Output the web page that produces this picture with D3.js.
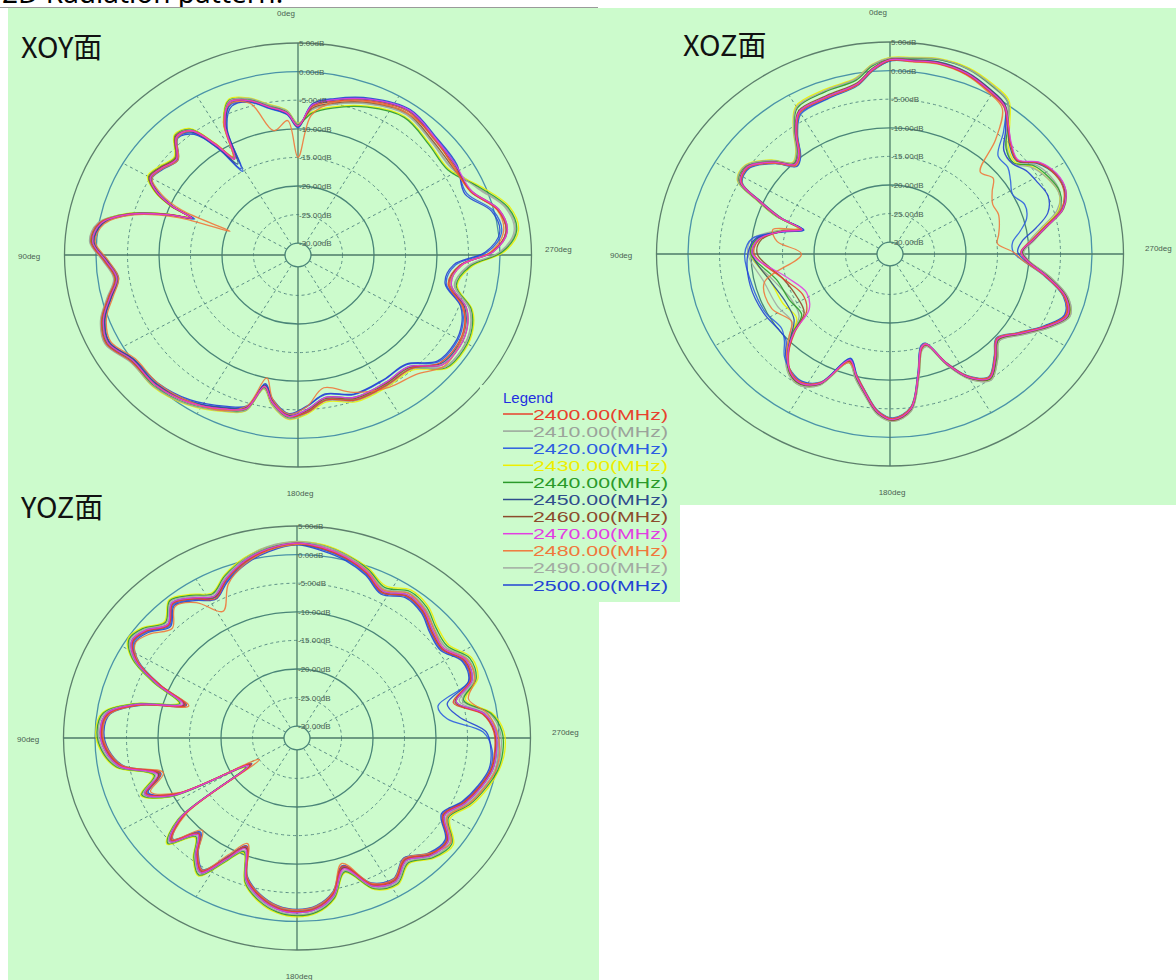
<!DOCTYPE html>
<html>
<head>
<meta charset="utf-8">
<script src="https://cdn.jsdelivr.net/npm/d3@7"></script>
<style>
  body { margin: 0; background: #fff; }
  svg { display: block; }
</style>
</head>
<body>
<svg id="chart" width="1176" height="980"></svg>
<script>
// legend / series
const freqLabels = ["2400.00(MHz)","2410.00(MHz)","2420.00(MHz)","2430.00(MHz)","2440.00(MHz)","2450.00(MHz)","2460.00(MHz)","2470.00(MHz)","2480.00(MHz)","2490.00(MHz)","2500.00(MHz)"];
const seriesColors = ["#e8412c","#9ba39b","#2c5ee0","#eeee00","#2a9a2a","#2f4d8c","#8c4b2c","#e23ee2","#f0783c","#a2aaa2","#2343d4"];
// drawing order (red / magenta end up on top, as in the picture)
const drawOrder = [1, 3, 4, 9, 2, 10, 5, 6, 8, 0, 7];

// grid
const ringDb = [5, 0, -5, -10, -15, -20, -25, -30];
const ringText = ["5.00dB","0.00dB","-5.00dB","-10.00dB","-15.00dB","-20.00dB","-25.00dB","-30.00dB"];
const spokeDeg = [30, 60, 120, 150, 210, 240, 300, 330];

// XOY plane (angle in deg, gain in dB)
const xoyAngles = [0,4,10,16,22,27,31,34,38,43,49,55,60,64,67,69,71,75,80,86,92,98,104,110,117,125,135,146,157,163,167,171,177,183,190,200,212,222,230,238,245,251,258,266,271,277,284,292,302,313,325,337,348,355];
const xoySeries = [
  [-9.5,-7.2,-5.8,-4.0,-3.2,-6.5,-12.5,-9,-4.5,-3.8,-6.5,-5.6,-5.0,-7.2,-10.5,-14,-10.5,-4.5,0,0.9,-1.3,-2.7,-1.0,1.1,2.1,0.3,0,-1.0,-2.8,-4.0,-8.5,-6.0,-3.8,-4.5,-6.3,-5.1,-5.3,-5.3,-2.7,-2.3,-2.9,-4.3,-7.7,-6.3,-1.3,1.2,0.6,-2.5,-2.8,-2.5,-1.5,-2.8,-4.6,-6.0],
  [-9.2,-6.9,-5.5,-3.7,-2.9,-6.2,-12.2,-8.7,-4.2,-3.5,-6.2,-5.3,-4.7,-6.9,-10.2,-13.7,-10.2,-4.2,0.2,1.1,-1.1,-2.5,-0.8,1.3,2.3,0.5,0.3,-0.7,-2.5,-3.7,-8.2,-5.7,-3.5,-4.7,-6.5,-5.3,-5.5,-5.5,-1.7,-1.3,-1.9,-3.3,-6.7,-4.8,0.2,2.7,2.1,-1.0,-3.3,-3.0,-2.0,-3.3,-5.1,-6.5],
  [-9.8,-7.5,-6.1,-4.3,-3.7,-7.0,-15,-10,-5.0,-4.0,-6.7,-5.8,-5.2,-7.4,-10.7,-14.5,-10.7,-4.7,-0.3,0.6,-1.6,-3.0,-1.3,0.8,1.8,0,-0.3,-1.3,-3.1,-4.3,-8.8,-6.3,-4.1,-5.5,-7.3,-6.1,-6.3,-6.3,-3.0,-2.6,-3.2,-4.6,-8.0,-7.0,-2.0,0.5,-0.1,-3.2,-2.5,-2.2,-1.2,-2.5,-4.3,-5.7],
  [-9.0,-6.7,-5.3,-3.5,-2.7,-6.0,-12,-8.5,-4.0,-3.3,-6.0,-5.1,-4.5,-6.7,-10,-13.5,-10,-4.0,0,0.9,-1.3,-2.7,-1.0,1.1,2.1,0.3,0.5,-0.5,-2.3,-3.5,-8.0,-5.5,-3.3,-4.2,-6.0,-4.8,-5.0,-5.0,-1.2,-0.8,-1.4,-2.8,-6.2,-4.3,0.7,3.2,2.6,-0.5,-3.8,-3.5,-2.5,-3.8,-5.6,-7.0],
  [-9.2,-6.9,-5.5,-3.7,-2.9,-6.2,-12.2,-8.7,-4.2,-3.5,-6.2,-5.3,-4.7,-6.9,-10.2,-13.7,-10.2,-4.2,-0.1,0.8,-1.4,-2.8,-1.1,1.0,2.0,0.2,0.3,-0.7,-2.5,-3.7,-8.2,-5.7,-3.5,-4.5,-6.3,-5.1,-5.3,-5.3,-1.4,-1.0,-1.6,-3.0,-6.4,-4.6,0.4,2.9,2.3,-0.8,-4.0,-3.7,-2.7,-4.0,-5.8,-7.2],
  [-9.5,-7.2,-5.8,-4.0,-3.5,-6.8,-13.5,-9.3,-4.8,-3.8,-6.5,-5.6,-5.0,-7.2,-10.5,-14,-10.5,-4.5,-0.5,0.4,-1.8,-3.2,-1.5,0.6,1.6,-0.2,-0.2,-1.2,-3.0,-4.2,-8.7,-6.2,-4.0,-5.0,-6.8,-5.6,-5.8,-5.8,-2.5,-2.1,-2.7,-4.1,-7.5,-6.3,-1.3,1.2,0.6,-2.5,-2.6,-2.3,-1.3,-2.6,-4.4,-5.8],
  [-9.5,-7.2,-5.8,-4.0,-3.2,-6.5,-12.5,-9,-4.5,-3.6,-6.3,-5.4,-4.8,-7.0,-10.3,-13.8,-10.3,-4.3,-0.3,0.6,-1.6,-3.0,-1.3,0.8,1.8,0,0,-1.0,-2.8,-4.0,-8.5,-6.0,-3.8,-4.8,-6.6,-5.4,-5.6,-5.6,-2.2,-1.8,-2.4,-3.8,-7.2,-6.1,-1.1,1.4,0.8,-2.3,-3.1,-2.8,-1.8,-3.1,-4.9,-6.3],
  [-9.5,-7.2,-5.8,-4.0,-3.2,-6.5,-12.5,-9,-4.5,-3.8,-6.5,-5.6,-5.0,-7.2,-10.5,-14,-10.5,-4.5,-0.3,0.6,-1.6,-3.0,-1.3,0.8,1.8,0,0,-1.0,-2.8,-4.0,-8.5,-6.0,-3.8,-5.0,-6.8,-5.6,-5.8,-5.8,-2.2,-1.8,-2.4,-3.8,-7.2,-6.1,-1.1,1.4,0.8,-2.3,-2.5,-2.2,-1.2,-2.5,-4.3,-5.7],
  [-15,-8.5,-10,-4.5,-3.5,-6,-12,-8.5,-4.5,-4.0,-6.8,-5.8,-5.3,-8,-12,-20.5,-12,-5.0,-0.8,0.2,-2.0,-3.3,-1.8,0.3,1.3,-0.5,-0.5,-1.2,-2.5,-4.5,-10,-6.5,-4.2,-5.5,-8.5,-6.5,-4.8,-4.0,-1.8,-2.0,-2.8,-4.5,-7.5,-6.0,-1.5,0.8,0.5,-2.5,-3.0,-2.3,-1.8,-3.0,-4.8,-7.5],
  [-9.1,-6.8,-5.4,-3.6,-3.0,-6.3,-12.3,-8.8,-4.3,-3.6,-6.3,-5.4,-4.8,-7.0,-10.3,-13.8,-10.3,-4.3,0.1,1.0,-1.2,-2.6,-0.9,1.2,2.2,0.4,0.4,-0.6,-2.4,-3.6,-8.1,-5.6,-3.4,-4.4,-6.2,-5.0,-5.2,-5.2,-1.6,-1.2,-1.8,-3.2,-6.6,-5.0,0,2.5,1.9,-1.2,-3.4,-3.1,-2.1,-3.4,-5.2,-6.6],
  [-9.7,-7.4,-6.0,-4.2,-4.0,-7.3,-14.5,-9.8,-5.3,-4.1,-6.8,-5.9,-5.3,-7.5,-10.8,-14.3,-10.8,-4.8,-0.6,0.3,-1.9,-3.3,-1.6,0.5,1.5,-0.3,-0.5,-1.5,-3.3,-4.5,-9.0,-6.5,-4.3,-5.6,-7.4,-6.2,-6.4,-6.4,-3.2,-2.8,-3.4,-4.8,-8.2,-7.3,-2.3,0.2,-0.4,-3.5,-2.3,-2.0,-1.0,-2.3,-4.1,-5.5]
];

// XOZ plane
const xozAngles = [0,5,10,20,30,35,40,44,49,56,62,66,70,73,77,83,90,104,117,127,132,137,143,148,154,161,166,171,176,181,187,192,197,200,205,210,216,223,229,236,243,249,255,261,267,271,276,281,286,292,298,304,309,315,320,325,331,339,347,354];
const xozSeries = [
  [1.8,0.2,-2.0,-2.9,-3.4,-6.2,-9.6,-10.4,-7.7,-4.9,-5.3,-9.5,-13.5,-17.3,-14.4,-11.2,-10.5,-14.5,-16.5,-15.5,-11.8,-8.5,-6.0,-5.5,-7.0,-12.3,-10.1,-7.4,-4.4,-3.2,-4.9,-10.4,-14.8,-15.2,-11.1,-7.3,-5.3,-7.6,-9.5,-7.3,-4.3,-2.1,-3.4,-7.0,-10.4,-11.3,-9.5,-7.0,-3.8,-2.3,-2.4,-3.6,-6.1,-5.0,-3.0,-0.6,0.4,1.6,2.1,1.8],
  [2.2,1.0,-1.0,-1.8,-2.5,-5.5,-9.0,-10.0,-7.2,-4.5,-4.8,-9.0,-13.0,-17.0,-14.0,-10.5,-9.8,-13.0,-14.5,-14.0,-10.8,-7.8,-5.5,-5.0,-6.5,-12.0,-9.5,-6.9,-3.9,-2.8,-4.4,-10.0,-14.6,-14.9,-10.6,-6.8,-4.8,-7.0,-9.0,-6.8,-3.7,-1.5,-2.8,-6.3,-10.0,-11.0,-9.8,-7.5,-4.5,-3.0,-3.2,-4.2,-6.8,-5.8,-3.5,0.4,1.4,2.5,2.8,2.3],
  [1.7,0,-2.2,-3.2,-3.8,-6.5,-10.0,-10.8,-8.0,-5.2,-5.5,-9.8,-13.8,-17.8,-14.8,-10.0,-9.0,-9.5,-9.8,-10.5,-9.5,-7.5,-6.2,-5.8,-7.2,-12.8,-10.3,-7.6,-4.6,-3.4,-5.1,-10.8,-15.3,-15.5,-11.3,-7.5,-5.5,-7.8,-9.7,-7.5,-4.5,-2.4,-3.6,-7.2,-11.0,-12.5,-12.5,-11,-9.5,-9.0,-10.0,-9.0,-8.0,-7.8,-4.0,-0.3,0.8,2.0,2.4,2.0],
  [2.3,1.2,-0.8,-1.5,-2.2,-5.3,-8.8,-9.8,-7.0,-4.3,-4.6,-8.8,-12.8,-16.8,-13.8,-10.8,-10.0,-12.5,-13.0,-13.5,-11.0,-8.0,-5.6,-5.1,-6.6,-12.1,-9.6,-7.0,-4.0,-2.9,-4.5,-10.1,-14.7,-15.0,-10.7,-6.9,-4.9,-7.1,-9.1,-6.9,-3.8,-1.6,-2.9,-6.4,-10.1,-11.1,-9.5,-7.2,-4.2,-3.2,-3.8,-4.8,-6.5,-5.5,-2.5,0.8,1.8,2.8,3.0,2.5],
  [2.1,0.9,-1.2,-1.9,-2.6,-5.6,-9.1,-10.0,-7.2,-4.5,-4.8,-9.0,-13.0,-17.0,-14.1,-10.7,-10.0,-13.5,-14.2,-14.5,-11.2,-8.1,-5.7,-5.2,-6.7,-12.2,-9.7,-7.1,-4.1,-3.0,-4.6,-10.2,-14.8,-15.1,-10.8,-7.0,-5.0,-7.2,-9.2,-7.0,-3.9,-1.7,-3.0,-6.5,-10.1,-11.0,-9.4,-7.0,-4.0,-3.0,-3.5,-4.5,-6.8,-6.0,-3.0,0.5,1.5,2.6,2.8,2.3],
  [1.9,0.3,-1.9,-2.8,-3.3,-6.0,-9.5,-10.3,-7.6,-4.8,-5.2,-9.4,-13.4,-17.5,-14.5,-11.0,-10.2,-12.5,-13.5,-13.0,-11.0,-8.2,-5.9,-5.4,-6.9,-12.5,-10,-7.3,-4.3,-3.1,-4.8,-10.5,-15,-15.3,-11,-7.2,-5.2,-7.5,-9.4,-7.2,-4.1,-1.9,-3.2,-6.8,-10.3,-11.2,-9.3,-6.7,-3.6,-2.2,-2.4,-3.8,-6.2,-5.2,-3.0,-0.2,0.8,1.9,2.3,2.0],
  [2.0,0.5,-1.7,-2.6,-3.1,-5.9,-9.4,-10.2,-7.5,-4.7,-5.1,-9.3,-13.3,-17.4,-14.4,-11.5,-11.0,-14.5,-15.5,-15.0,-11.5,-8.4,-5.8,-5.3,-6.8,-12.4,-9.9,-7.2,-4.2,-3.0,-4.7,-10.4,-14.9,-15.2,-10.9,-7.1,-5.1,-7.4,-9.3,-7.1,-4.0,-1.8,-3.1,-6.7,-10.2,-11.1,-9.2,-6.6,-3.4,-2.0,-2.2,-3.5,-6.0,-4.9,-2.8,-0.3,0.7,1.9,2.3,2.0],
  [1.9,0.3,-1.9,-2.8,-3.3,-6.0,-9.5,-10.3,-7.6,-4.8,-5.2,-9.4,-13.4,-17.5,-14.5,-11,-10.2,-15.2,-17.2,-16,-11.5,-8.3,-5.9,-5.4,-6.9,-12.5,-10,-7.3,-4.3,-3.1,-4.8,-10.5,-15,-15.3,-11,-7.2,-5.2,-7.5,-9.4,-7.2,-4.1,-1.9,-3.2,-6.8,-10.3,-11.2,-9.3,-6.7,-3.5,-2.0,-2.1,-3.4,-5.9,-4.8,-2.8,-0.4,0.6,1.8,2.2,1.9],
  [1.8,0.1,-2.1,-3.0,-3.5,-6.3,-9.8,-10.6,-7.9,-5.0,-5.4,-9.6,-13.6,-17.0,-13.0,-14.0,-18.0,-11.5,-11.0,-12.5,-10.5,-8.0,-6.1,-5.6,-7.1,-12.0,-10.2,-7.5,-4.5,-3.3,-5.0,-10.6,-15.1,-15.4,-11.2,-7.4,-5.4,-7.7,-9.6,-7.4,-4.3,-2.2,-3.5,-7.1,-11.0,-12.5,-14.9,-14.5,-14.0,-13.5,-13.6,-12.5,-11.0,-11.8,-6.0,-1.0,0.2,1.5,2.0,1.7],
  [2.2,1.1,-0.9,-1.7,-2.4,-5.4,-8.9,-9.9,-7.1,-4.4,-4.7,-8.9,-12.9,-16.9,-13.9,-10.0,-9.5,-11.5,-12.0,-12.5,-10.5,-7.7,-5.5,-5.0,-6.5,-12.0,-9.5,-6.9,-3.9,-2.8,-4.4,-10.0,-14.6,-14.9,-10.6,-6.8,-4.8,-7.0,-9.0,-6.8,-3.7,-1.5,-2.8,-6.3,-10.0,-10.8,-9.0,-6.8,-4.0,-3.2,-3.8,-5.0,-7.0,-6.5,-3.2,0.5,1.6,2.6,2.9,2.4],
  [1.7,0.1,-2.1,-3.1,-3.6,-6.4,-9.9,-10.7,-7.9,-5.1,-5.4,-9.7,-13.7,-17.7,-14.7,-10.5,-9.5,-9.2,-9.5,-10.0,-9.8,-7.8,-6.1,-5.7,-7.1,-12.7,-10.2,-7.5,-4.5,-3.3,-5.0,-10.7,-15.2,-15.4,-11.2,-7.4,-5.4,-7.7,-9.6,-7.4,-4.4,-2.3,-3.5,-7.0,-10.6,-11.8,-11.0,-8.5,-6.0,-5.0,-5.5,-6.0,-7.0,-6.5,-3.5,-0.5,0.5,1.7,2.1,1.8]
];

// YOZ plane
const yozAngles = [0,8,15,22,28,34,40,46,52,57,62,67,72,77,82,88,94,100,106,112,117,122,127,132,137,142,147,152,157,162,168,174,180,186,192,198,205,212,219,226,233,240,247,254,260,266,272,278,284,290,297,304,311,318,325,332,339,346,353];
const yozSeries = [
  [2.0,1.2,-0.2,-2.2,-4.5,-2.7,-1.4,-3.7,-1.7,-1.0,-3.2,-8.5,-13.5,-6.3,-1.8,-1.0,-1.8,-3.8,-9.5,-6.3,-10.5,-23.5,-9.5,-5.3,-9.3,-6.3,-4.3,-8.3,-11.5,-6.3,-3.8,-2.2,-1.7,-2.2,-4.3,-8.5,-3.8,-2.8,-4.8,-2.8,-2.3,-5.3,-3.3,-1.8,-0.8,-0.6,-0.8,-2.3,-6.5,-2.8,-2.3,-4.3,-3.8,-2.3,-1.8,-3.3,-1.2,0.3,1.3],
  [2.3,1.7,0.4,-1.6,-3.6,-2.1,-0.8,-3.1,-1.1,-0.4,-2.6,-7.6,-12.6,-5.6,-1.1,-0.4,-1.1,-3.1,-8.6,-5.6,-9.6,-22.5,-8.6,-4.6,-8.6,-5.6,-3.6,-7.6,-10.6,-5.6,-3.1,-1.6,-1.1,-1.6,-3.6,-7.6,-3.1,-2.1,-4.1,-2.1,-1.6,-4.6,-2.6,-1.1,0.1,0.4,0.2,-1.2,-5.0,-2.0,-1.6,-3.6,-3.1,-1.6,-1.1,-2.6,-0.6,0.9,1.9],
  [1.8,1.0,-0.4,-2.4,-4.3,-2.9,-1.6,-3.9,-1.9,-1.2,-3.4,-8.4,-13.4,-6.4,-1.9,-1.2,-1.9,-3.9,-9.4,-6.4,-10.4,-23.4,-9.4,-5.4,-9.4,-6.4,-4.4,-8.4,-11.4,-6.4,-3.9,-2.4,-1.9,-2.4,-4.4,-8.4,-3.9,-2.9,-4.9,-2.9,-2.4,-5.4,-3.4,-1.9,-0.9,-1.0,-2.5,-8.0,-9.0,-3.0,-2.4,-4.4,-3.9,-2.4,-1.9,-3.4,-1.4,0.1,1.1],
  [2.2,1.6,0.5,-1.3,-3.3,-1.8,-0.5,-2.8,-0.8,-0.1,-2.3,-7.3,-12.3,-5.3,-0.8,-0.1,-0.8,-2.8,-8.3,-5.3,-9.3,-22.3,-8.3,-4.3,-8.3,-5.3,-3.3,-7.3,-10.3,-5.3,-2.8,-1.3,-0.8,-1.3,-3.3,-7.3,-2.8,-1.8,-3.8,-1.8,-1.0,-4.0,-2.0,-0.5,0.5,1.0,0.8,-0.8,-4.5,-1.5,-1.0,-3.0,-2.5,-1.0,-0.5,-2.0,-0.3,1.0,2.0],
  [2.1,1.5,0.3,-1.5,-3.5,-2.0,-0.7,-3.0,-1.0,-0.3,-2.5,-7.5,-12.5,-5.5,-1.0,-0.3,-1.0,-3.0,-8.5,-5.5,-9.5,-22.5,-8.5,-4.5,-8.5,-5.5,-3.5,-7.5,-10.5,-5.5,-3.0,-1.5,-1.0,-1.5,-3.5,-7.5,-3.0,-2.0,-4.0,-2.0,-1.3,-4.3,-2.3,-0.8,0.3,0.7,0.5,-1.0,-4.8,-1.8,-1.3,-3.3,-2.8,-1.3,-0.8,-2.3,-0.5,0.8,1.8],
  [2.0,1.3,0.0,-2.0,-4.0,-2.5,-1.2,-3.5,-1.5,-0.8,-3.0,-8.0,-13.2,-6.0,-1.5,-0.8,-1.5,-3.5,-9.2,-6.0,-10.0,-23.2,-9.0,-5.0,-9.0,-6.0,-4.0,-8.0,-11.2,-6.0,-3.5,-2.0,-1.5,-2.0,-4.0,-8.2,-3.5,-2.5,-4.5,-2.5,-2.0,-5.0,-3.0,-1.5,-0.5,-0.3,-0.5,-2.0,-6.0,-2.5,-2.0,-4.0,-3.5,-2.0,-1.5,-3.0,-1.0,0.5,1.5],
  [1.8,1.1,-0.2,-2.2,-4.2,-2.7,-1.4,-3.7,-1.7,-1.0,-3.2,-8.2,-13.2,-6.2,-1.7,-1.0,-1.7,-3.7,-9.2,-6.2,-10.2,-23.2,-9.2,-5.2,-9.2,-6.2,-4.2,-8.2,-11.2,-6.2,-3.7,-2.2,-1.7,-2.2,-4.2,-8.2,-3.7,-2.7,-4.7,-2.7,-2.2,-5.2,-3.2,-1.7,-0.7,-0.5,-0.7,-2.2,-6.2,-2.7,-2.2,-4.2,-3.7,-2.2,-1.7,-3.2,-1.2,0.3,1.3],
  [2.0,1.3,0.0,-2.0,-4.0,-2.5,-1.2,-3.5,-1.5,-0.8,-3.0,-8.0,-13.0,-6.0,-1.5,-0.8,-1.5,-3.5,-9.0,-6.0,-10.0,-23.0,-9.0,-5.0,-9.0,-6.0,-4.0,-8.0,-11.0,-6.0,-3.5,-2.0,-1.5,-2.0,-4.0,-8.0,-3.5,-2.5,-4.5,-2.5,-2.0,-5.0,-3.0,-1.5,-0.5,-0.3,-0.5,-2.0,-6.0,-2.5,-2.0,-4.0,-3.5,-2.0,-1.5,-3.0,-1.0,0.5,1.5],
  [1.8,1.0,-0.5,-3.0,-7.0,-3.5,-2.0,-4.5,-2.5,-1.5,-3.5,-8.5,-14,-6.5,-2.0,-1.2,-2.0,-4.0,-10,-7.0,-11,-25,-10,-5.5,-10,-6.5,-4.5,-9.0,-12,-6.5,-4.0,-2.5,-2.0,-2.5,-4.5,-9.0,-4.0,-3.0,-5.0,-3.0,-1.5,-4.5,-2.5,-1.0,0,0.2,-0.3,-1.5,-4.0,-2.0,-1.8,-4.0,-3.2,-1.8,-1.2,-2.8,-0.8,0.5,1.5],
  [2.2,1.6,0.3,-1.7,-3.7,-2.2,-0.9,-3.2,-1.2,-0.5,-2.7,-7.7,-12.7,-5.7,-1.2,-0.5,-1.2,-3.2,-8.7,-5.7,-9.7,-22.7,-8.7,-4.7,-8.7,-5.7,-3.7,-7.7,-10.7,-5.7,-3.2,-1.7,-1.2,-1.7,-3.7,-7.7,-3.2,-2.2,-4.2,-2.2,-1.7,-4.7,-2.7,-1.2,-0.2,0,-0.2,-1.7,-5.5,-2.2,-1.7,-3.7,-3.2,-1.7,-1.2,-2.7,-0.7,0.8,1.8],
  [1.7,0.8,-0.6,-2.6,-4.6,-3.1,-1.8,-4.1,-2.1,-1.4,-3.6,-8.6,-13.6,-6.6,-2.1,-1.4,-2.1,-4.1,-9.6,-6.6,-10.6,-23.6,-9.6,-5.6,-9.6,-6.6,-4.6,-8.6,-11.6,-6.6,-4.1,-2.6,-2.1,-2.6,-4.6,-8.6,-4.1,-3.1,-5.1,-3.1,-2.6,-5.6,-3.6,-2.1,-1.1,-1.2,-2.0,-6.0,-7.5,-3.1,-2.6,-4.6,-4.1,-2.6,-2.1,-3.6,-1.6,-0.1,0.9]
];

const svg = d3.select("#chart");
const panelFill = "#ccfbcc";
const yk = 0.908; // plots are slightly squeezed vertically

// radial scale: dB -> px (horizontal)
const r = d3.scaleLinear().domain([-30, 5]).range([13, 233.5]).clamp(true);

// page header (cut at top, as in the screenshot)
svg.append("text").attr("x", 2).attr("y", 3)
  .style("font-family", "'Noto Sans', sans-serif").style("font-size", "28px")
  .text("2D Radiation pattern:");
svg.append("line").attr("x1", 0).attr("x2", 598).attr("y1", 7.5).attr("y2", 7.5)
  .attr("stroke", "#9a9a9a").attr("stroke-width", 1);

// panels
svg.append("rect").attr("x", 8).attr("y", 8).attr("width", 591).attr("height", 972).attr("fill", panelFill);
svg.append("rect").attr("x", 599).attr("y", 8).attr("width", 577).attr("height", 497).attr("fill", panelFill);

function drawPolar(cx, cy, angles, series, opt) {
  const g = svg.append("g");
  const p = g.append("g").attr("transform", `translate(${cx},${cy}) scale(1,${yk})`);

  // rings
  ringDb.forEach(v => {
    const dashed = (v === -5 || v === -15 || v === -25);
    p.append("circle").attr("r", r(v))
      .attr("fill", "none")
      .attr("stroke", v === 5 ? "#5d7f6c" : (v === 0 ? "#4a93a8" : (dashed ? "#5c8f86" : "#4a8578")))
      .attr("stroke-width", dashed ? 1 : 1.3)
      .attr("stroke-dasharray", dashed ? "3,3" : null)
      .attr("vector-effect", "non-scaling-stroke");
  });

  // main axes
  [0, 90, 180, 270].forEach(a => {
    const t = a * Math.PI / 180;
    p.append("line")
      .attr("x1", -r(-30) * Math.sin(t)).attr("y1", -r(-30) * Math.cos(t))
      .attr("x2", -r(5) * Math.sin(t)).attr("y2", -r(5) * Math.cos(t))
      .attr("stroke", "#4c7a68").attr("stroke-width", 1.3)
      .attr("vector-effect", "non-scaling-stroke");
  });
  // dotted spokes
  spokeDeg.forEach(a => {
    const t = a * Math.PI / 180;
    p.append("line")
      .attr("x1", -r(-30) * Math.sin(t)).attr("y1", -r(-30) * Math.cos(t))
      .attr("x2", -r(0) * Math.sin(t)).attr("y2", -r(0) * Math.cos(t))
      .attr("stroke", "#5c8f86").attr("stroke-width", 1)
      .attr("stroke-dasharray", "3,3")
      .attr("vector-effect", "non-scaling-stroke");
  });

  // pattern curves
  const line = d3.lineRadial()
    .angle(d => -d[0] * Math.PI / 180)
    .radius(d => r(d[1]))
    .curve(d3.curveCatmullRomClosed.alpha(0.5));
  drawOrder.forEach(i => {
    const vals = series[i];
    const pts = angles.map((a, j) => [a, vals[j]]).filter(d => d[1] !== undefined);
    p.append("path")
      .attr("d", line(pts))
      .attr("fill", "none")
      .attr("stroke", seriesColors[i])
      .attr("stroke-width", 1.3)
      .attr("stroke-opacity", 0.9)
      .attr("vector-effect", "non-scaling-stroke");
  });

  // ring labels
  const lab = g.append("g").style("font-family", "'Liberation Sans', Arial, sans-serif")
    .style("font-size", "8px").attr("fill", "#4a5f52");
  ringDb.forEach((v, i) => {
    lab.append("text").attr("x", cx + 1).attr("y", cy - r(v) * yk + 3).text(ringText[i]);
  });
  if (opt.topLabel) {
    lab.append("text").attr("x", cx - 12).attr("y", cy - 239).attr("text-anchor", "middle").text("0deg");
  }
  lab.append("text").attr("x", cx + 2).attr("y", cy + 241).attr("text-anchor", "middle").text("180deg");
  lab.append("text").attr("x", cx - 280).attr("y", cy + 4).text("90deg");
  lab.append("text").attr("x", cx + opt.right).attr("y", cy - 3).text("270deg");

  // plane title
  svg.append("text").attr("x", opt.tx).attr("y", opt.ty)
    .style("font-family", "'Noto Sans CJK SC', 'Noto Sans', sans-serif")
    .style("font-size", "29px").attr("fill", "#111")
    .text(opt.title);
}

drawPolar(298, 255, xoyAngles, xoySeries, { title: "XOY面", tx: 21, ty: 58, right: 247, topLabel: true });
// YOZ "0deg" is hidden under the XOY "180deg" label in the screenshot
drawPolar(297, 738, yozAngles, yozSeries, { title: "YOZ面", tx: 21, ty: 518, right: 255, topLabel: false });
drawPolar(890, 254, xozAngles, xozSeries, { title: "XOZ面", tx: 683, ty: 56, right: 255, topLabel: true });

// legend
const lg = svg.append("g");
lg.append("rect").attr("x", 480).attr("y", 385).attr("width", 200).attr("height", 217).attr("fill", panelFill);
lg.append("text").attr("x", 503).attr("y", 403)
  .style("font-family", "'Liberation Sans', Arial, sans-serif").style("font-size", "15px")
  .attr("fill", "#1f2fe0").text("Legend");
freqLabels.forEach((f, i) => {
  const y = 414 + i * 17.1;
  lg.append("line").attr("x1", 503).attr("x2", 533).attr("y1", y).attr("y2", y)
    .attr("stroke", seriesColors[i]).attr("stroke-width", 1.5);
  lg.append("text").attr("x", 533).attr("y", y + 5.5)
    .attr("textLength", 135).attr("lengthAdjust", "spacingAndGlyphs")
    .style("font-family", "'Liberation Sans', Arial, sans-serif").style("font-size", "15px")
    .attr("fill", seriesColors[i]).text(f);
});
</script>
</body>
</html>
